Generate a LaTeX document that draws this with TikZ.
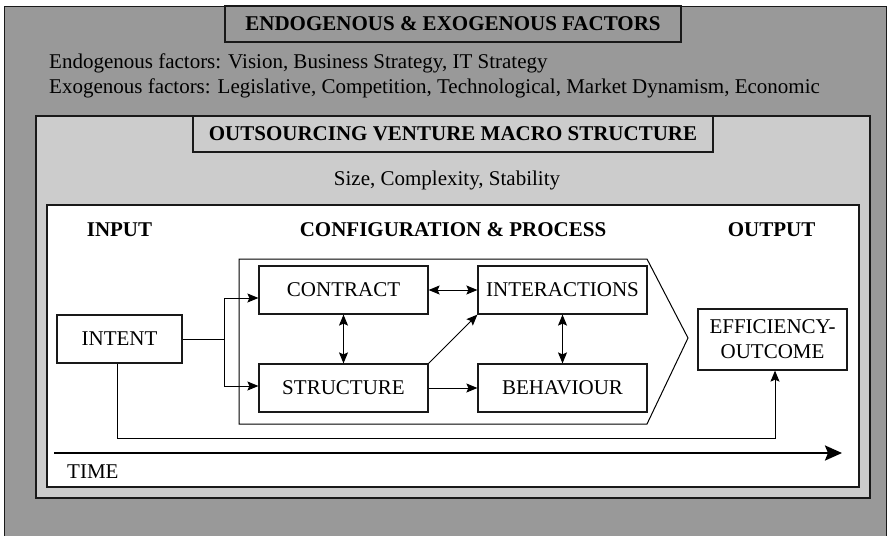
\documentclass[tikz,border=0pt]{standalone}
\usepackage{fontspec}
\setmainfont{Liberation Serif}
\usetikzlibrary{arrows.meta}
\definecolor{outergray}{HTML}{999999}
\definecolor{innergray}{HTML}{CCCCCC}
\begin{document}
\begin{tikzpicture}[x=1pt,y=-1pt,
  font=\fontsize{21}{25}\selectfont,
  >={Stealth[length=11pt,width=9pt,inset=2pt]},
  frame/.style={draw=black!90, line width=1.2pt, inner sep=0pt},
  titlebox/.style={frame, font=\fontsize{21}{25}\selectfont\bfseries},
  stagebox/.style={frame, fill=white, minimum width=169pt, minimum height=48pt},
  plain/.style={inner sep=0pt},
  head/.style={inner sep=0pt, anchor=base, font=\fontsize{21}{25}\selectfont\bfseries},
  arr/.style={->, line width=1pt},
  dbl/.style={<->, line width=1pt},
  link/.style={line width=1pt}
]
\useasboundingbox (0,0) rectangle (890,535);
\fill[white] (0,0) rectangle (890,535);

% outer panel: influencing factors
\begin{scope}
  \clip (0,0) rectangle (890,535);
  \node[frame, fill=outergray, minimum width=882pt, minimum height=550pt, anchor=north west] (factorsPanel) at (4,6) {};
\end{scope}
\node[titlebox, fill=outergray, minimum width=456pt, minimum height=36pt] (factorsTitle) at (453,24) {ENDOGENOUS \& EXOGENOUS FACTORS};
\node[plain, anchor=base west] (endo) at (49,68) {Endogenous factors: Vision, Business Strategy, IT Strategy};
\node[plain, anchor=base west] (exo) at (49,93) {Exogenous factors: Legislative, Competition, Technological, Market Dynamism, Economic};

% macro structure panel
\node[frame, fill=innergray, minimum width=834pt, minimum height=382pt] (macroPanel) at (453,307) {};
\node[titlebox, fill=innergray, minimum width=520pt, minimum height=36pt] (macroTitle) at (453,134) {OUTSOURCING VENTURE MACRO STRUCTURE};
\node[plain, anchor=base] (dims) at (447,185) {Size, Complexity, Stability};

% process panel
\node[frame, fill=white, minimum width=812pt, minimum height=282pt] (processPanel) at (453,346) {};
\node[head] (inputHead) at (119.5,236.5) {INPUT};
\node[head] (configHead) at (453,236.5) {CONFIGURATION \& PROCESS};
\node[head] (outputHead) at (771.5,236.5) {OUTPUT};

% configuration chevron
\draw[line width=1pt] (239,259) -- (647,259) -- (688,338) -- (647,424) -- (239,424) -- cycle;

% stages
\node[stagebox, minimum width=125pt] (intent) at (119.5,339) {INTENT};
\node[stagebox] (contract) at (343.5,290) {CONTRACT};
\node[stagebox] (structure) at (343.5,388) {STRUCTURE};
\node[stagebox] (interactions) at (562.5,290) {INTERACTIONS};
\node[stagebox] (behaviour) at (562.5,388) {BEHAVIOUR};
\node[stagebox, minimum width=149pt, minimum height=61pt, align=center] (outcome) at (772.5,339.5) {EFFICIENCY-\\OUTCOME};

% connectors
\coordinate (split) at (224,339);
\draw[link] (intent.east) -- (split);
\draw[arr] (split) |- ([yshift=-8pt]contract.west);
\draw[arr] (split) |- ([yshift=2pt]structure.west);
\draw[dbl] (contract.south) -- (structure.north);
\draw[dbl] (contract.east) -- (interactions.west);
\draw[arr] (structure.north east) -- (interactions.south west);
\draw[arr] (structure.east) -- (behaviour.west);
\draw[dbl] (interactions.south) -- (behaviour.north);

\coordinate (bendL) at (117,438);
\coordinate (bendR) at (775,438);
\draw[arr] (intent.south -| bendL) -- (bendL) -- (bendR) -- (bendR |- outcome.south);

% time axis
\coordinate (timeStart) at (54,453);
\coordinate (timeEnd) at (842,453);
\draw[-{Stealth[length=17pt,width=15pt,inset=3pt]}, line width=2.4pt] (timeStart) -- (timeEnd);
\node[plain, anchor=base west] (timeLabel) at (67,478) {TIME};
\end{tikzpicture}
\end{document}
